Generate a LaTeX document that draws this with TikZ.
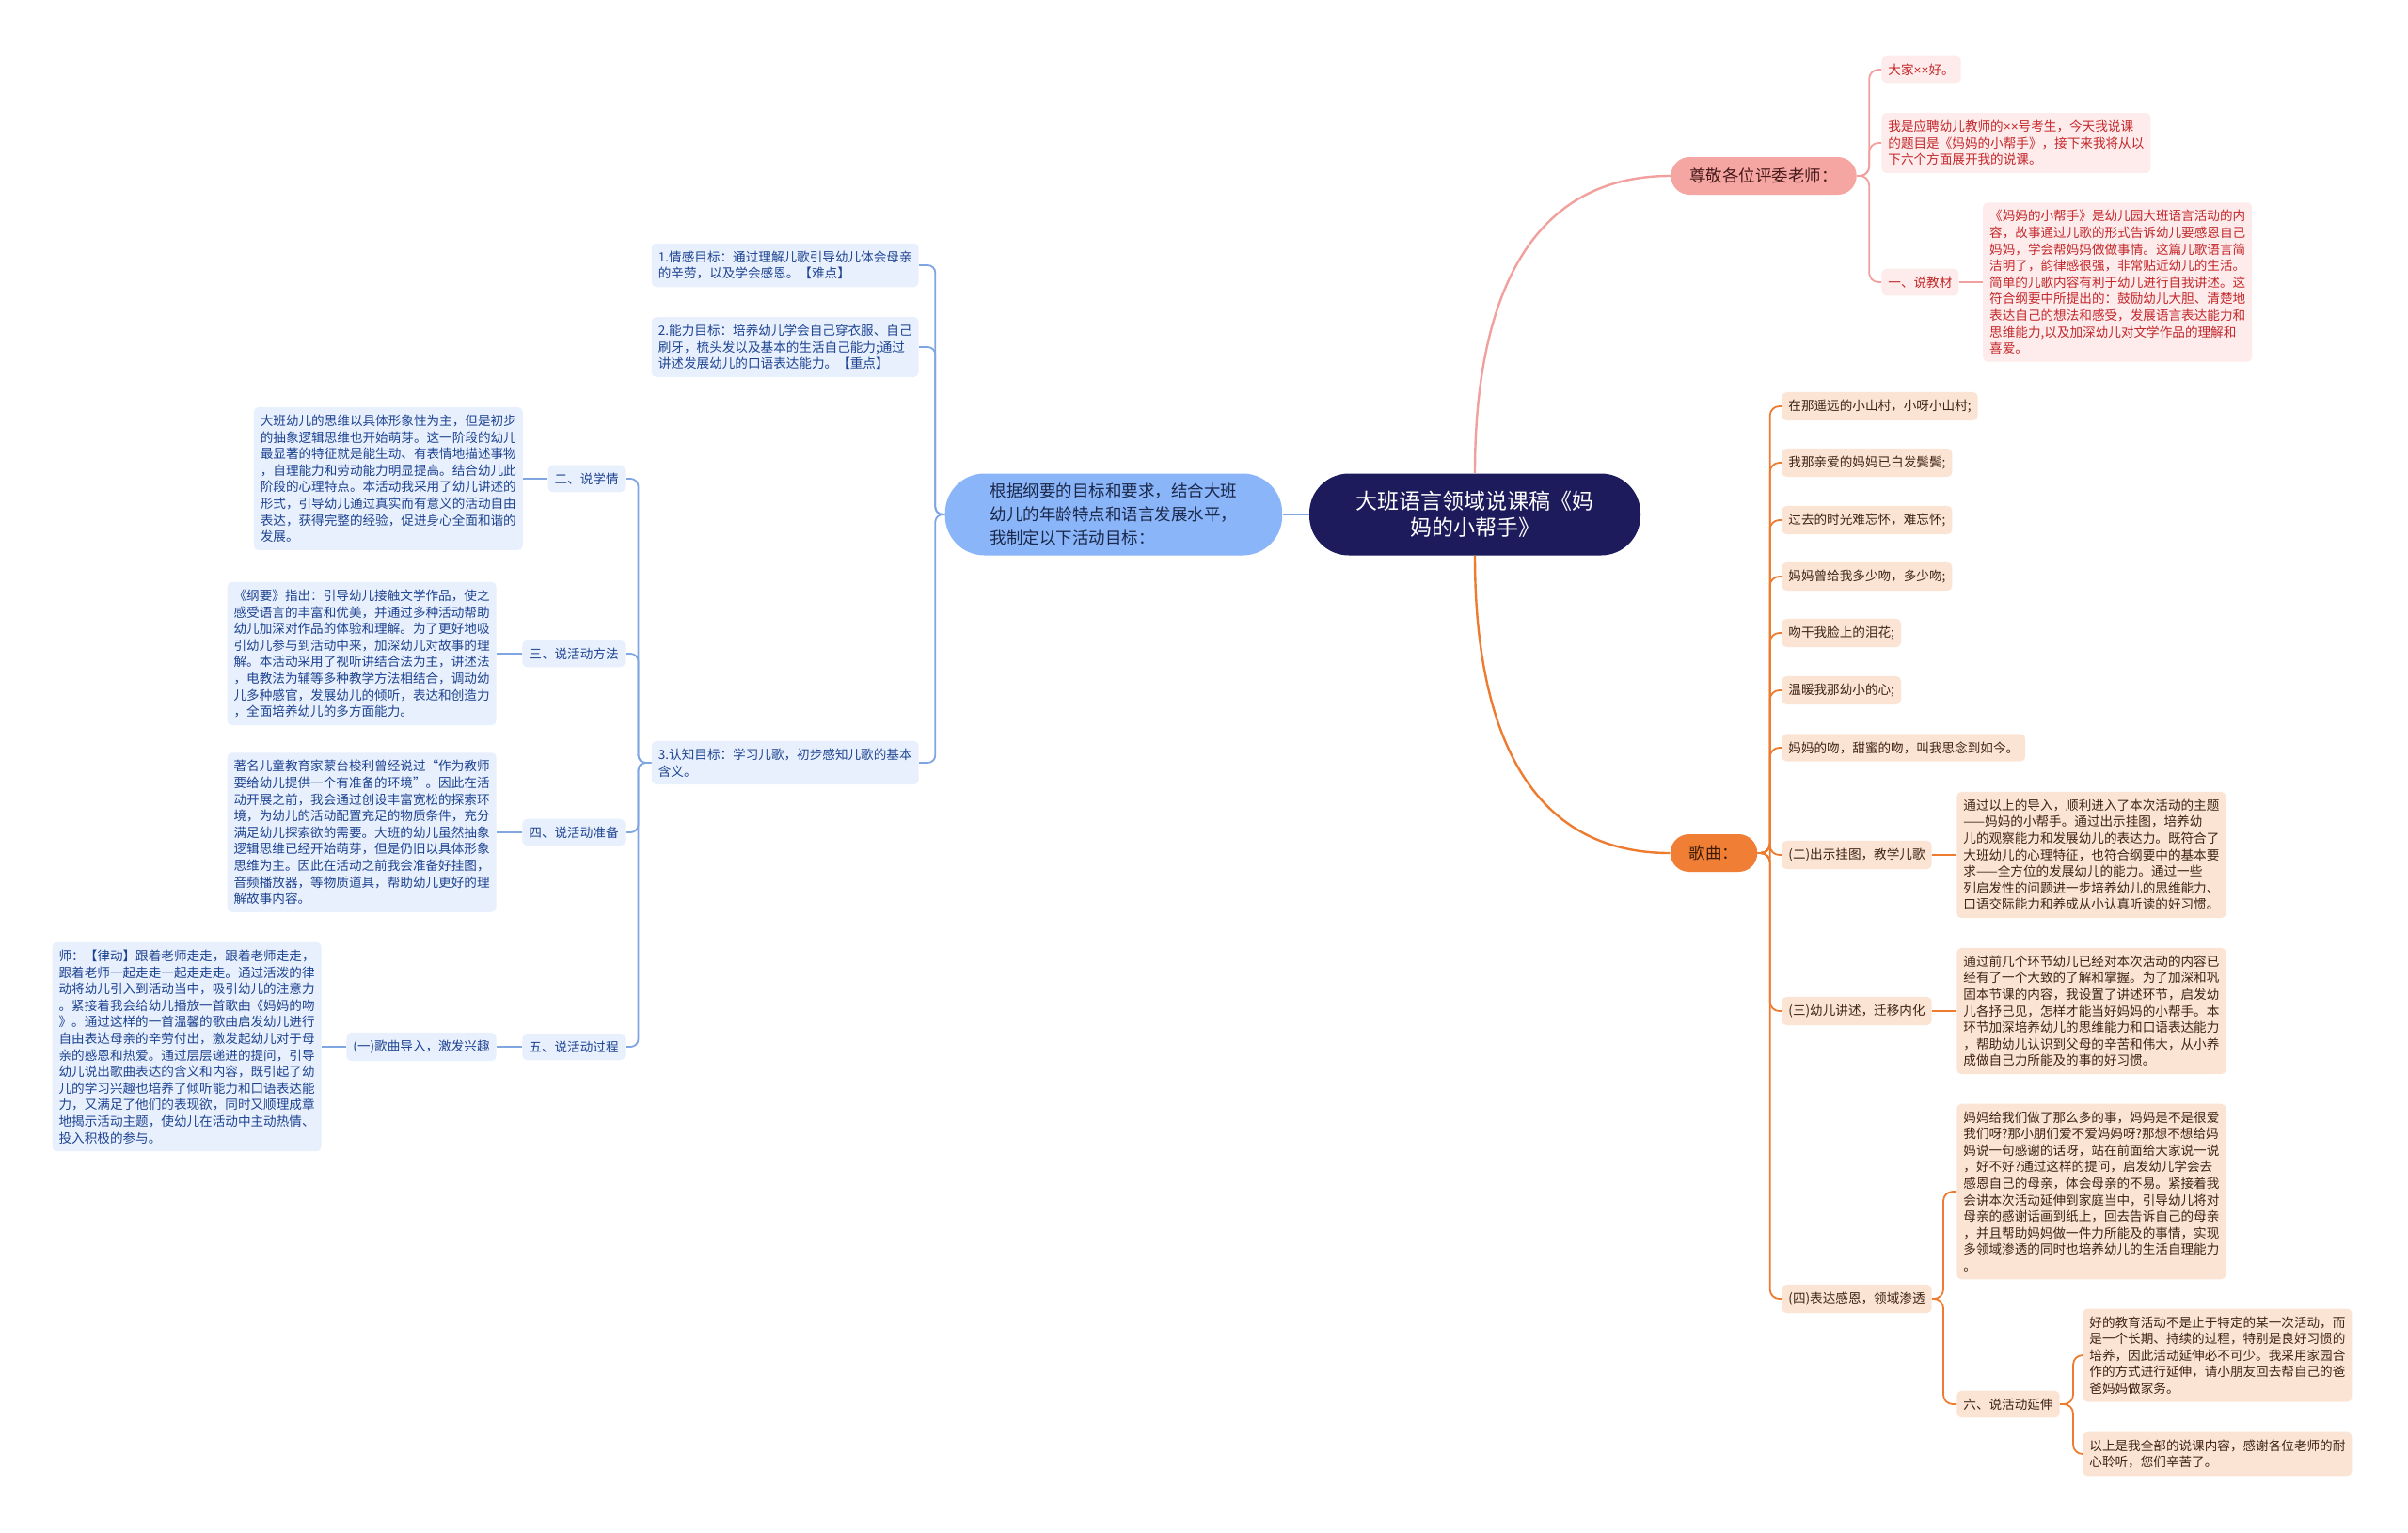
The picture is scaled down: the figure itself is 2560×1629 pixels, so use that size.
\documentclass[tikz,border=0pt]{standalone}
\usepackage{fontspec}
\setmainfont{Noto Sans CJK SC}
\newfontfamily\latinfont{Liberation Sans}
\usepackage{xcolor}
\usepackage{tikz}
\usetikzlibrary{
    positioning,
    calc
}

\definecolor{rootnavy}{RGB}{30,27,92}
\definecolor{pinkline}{RGB}{242,160,157}
\definecolor{pinkfill}{RGB}{245,166,163}
\definecolor{pinkpale}{RGB}{253,236,235}
\definecolor{pinktext}{RGB}{196,40,44}
\definecolor{pinkdark}{RGB}{70,25,25}
\definecolor{orangeline}{RGB}{238,124,48}
\definecolor{orangefill}{RGB}{240,126,52}
\definecolor{orangepale}{RGB}{252,228,212}
\definecolor{orangetext}{RGB}{62,36,20}
\definecolor{orangedark}{RGB}{60,28,8}
\definecolor{blueline}{RGB}{128,166,226}
\definecolor{bluefill}{RGB}{138,182,249}
\definecolor{bluepale}{RGB}{232,240,253}
\definecolor{bluetext}{RGB}{30,68,145}
\definecolor{bluedark}{RGB}{27,40,75}

\newcommand{\xx}{{\latinfont ××}}

\begin{document}
\begin{tikzpicture}[
  x=0.5pt, y=-0.5pt,
  root/.style={rectangle, rounded corners=21pt,
    fill=rootnavy, text=white,
    minimum width=176pt, minimum height=43.5pt,
    font=\fontsize{11.5}{14}\selectfont, align=center},
  goal/.style={rectangle, rounded corners=21pt,
    fill=bluefill, text=bluedark,
    minimum height=43.5pt, inner xsep=24pt,
    font=\fontsize{8.75}{12.5}\selectfont, align=left},
  topicpink/.style={rectangle, rounded corners=10pt,
    fill=pinkfill, text=pinkdark,
    minimum height=20pt, inner xsep=10pt,
    font=\fontsize{8.75}{12.5}\selectfont},
  topicorange/.style={rectangle, rounded corners=10pt,
    fill=orangefill, text=orangedark,
    minimum height=20pt, inner xsep=10pt,
    font=\fontsize{8.75}{12.5}\selectfont},
  leaf/.style={rectangle, rounded corners=2.5pt,
    inner xsep=3.5pt, inner ysep=4pt,
    font=\fontsize{6.8}{8.8}\selectfont, align=left},
  pinkleaf/.style={leaf, fill=pinkpale, text=pinktext},
  orangeleaf/.style={leaf, fill=orangepale, text=orangetext},
  blueleaf/.style={leaf, fill=bluepale, text=bluetext},
  pinkedge/.style={draw=pinkline, line width=1.2pt},
  orangeedge/.style={draw=orangeline, line width=1.2pt},
  blueedge/.style={draw=blueline, line width=1.2pt},
  pinkbranch/.style={draw=pinkline, line width=0.9pt, rounded corners=5pt},
  orangebranch/.style={draw=orangeline, line width=0.9pt, rounded corners=5pt},
  bluebranch/.style={draw=blueline, line width=0.9pt, rounded corners=4pt}
]

\fill[white] (0,0) rectangle (2560,1629);
\useasboundingbox (0,0) rectangle (2560,1629);

%% ── Root ─────────────────────────────────────────────────────────────────────
\node[root] (root) at (1568,547) {大班语言领域说课稿《妈\\妈的小帮手》};
\node[goal, left=14pt of root] (goal)
    {根据纲要的目标和要求，结合大班\\幼儿的年龄特点和语言发展水平，\\我制定以下活动目标：};

\draw[blueedge] (root.west) -- (goal.east);

%% ── Right, pink: greeting ────────────────────────────────────────────────────
\node[topicpink] (respect) at (1875,187) {尊敬各位评委老师：};

\node[pinkleaf, anchor=west] (hello) at (2000,74) {大家\xx 好。};
\node[pinkleaf, anchor=west] (intro) at (2000,152)
    {我是应聘幼儿教师的\xx 号考生，今天我说课\\的题目是《妈妈的小帮手》，接下来我将从以\\下六个方面展开我的说课。};
\node[pinkleaf, anchor=west] (material) at (2000,300) {一、说教材};
\node[pinkleaf, right=12.5pt of material] (materialtxt)
    {《妈妈的小帮手》是幼儿园大班语言活动的内\\容，故事通过儿歌的形式告诉幼儿要感恩自己\\妈妈，学会帮妈妈做做事情。这篇儿歌语言简\\洁明了，韵律感很强，非常贴近幼儿的生活。\\简单的儿歌内容有利于幼儿进行自我讲述。这\\符合纲要中所提出的：鼓励幼儿大胆、清楚地\\表达自己的想法和感受，发展语言表达能力和\\思维能力,以及加深幼儿对文学作品的理解和\\喜爱。};

\draw[pinkedge] (root.north) to[out=90, in=180, looseness=1.1] (respect.west);
\draw[pinkbranch] (respect.east) -- ++(13,0) |- (hello.west);
\draw[pinkbranch] (respect.east) -- ++(13,0) |- (intro.west);
\draw[pinkbranch] (respect.east) -- ++(13,0) |- (material.west);
\draw[pinkbranch] (material) -- (materialtxt);

%% ── Right, orange: song and process ──────────────────────────────────────────
\node[topicorange] (song) at (1822,907) {歌曲：};

\node[orangeleaf, anchor=west] (lyric1) at (1894,432) {在那遥远的小山村，小呀小山村;};
\node[orangeleaf, anchor=west] (lyric2) at (1894,492) {我那亲爱的妈妈已白发鬓鬓;};
\node[orangeleaf, anchor=west] (lyric3) at (1894,553) {过去的时光难忘怀，难忘怀;};
\node[orangeleaf, anchor=west] (lyric4) at (1894,613) {妈妈曾给我多少吻，多少吻;};
\node[orangeleaf, anchor=west] (lyric5) at (1894,673) {吻干我脸上的泪花;};
\node[orangeleaf, anchor=west] (lyric6) at (1894,734) {温暖我那幼小的心;};
\node[orangeleaf, anchor=west] (lyric7) at (1894,795) {妈妈的吻，甜蜜的吻，叫我思念到如今。};

\node[orangeleaf, anchor=west] (picture) at (1894,909) {(二)出示挂图，教学儿歌};
\node[orangeleaf, right=13pt of picture] (picturetxt)
    {通过以上的导入，顺利进入了本次活动的主题\\——妈妈的小帮手。通过出示挂图，培养幼\\儿的观察能力和发展幼儿的表达力。既符合了\\大班幼儿的心理特征，也符合纲要中的基本要\\求——全方位的发展幼儿的能力。通过一些\\列启发性的问题进一步培养幼儿的思维能力、\\口语交际能力和养成从小认真听读的好习惯。};

\node[orangeleaf, anchor=west] (retell) at (1894,1075) {(三)幼儿讲述，迁移内化};
\node[orangeleaf, right=13pt of retell] (retelltxt)
    {通过前几个环节幼儿已经对本次活动的内容已\\经有了一个大致的了解和掌握。为了加深和巩\\固本节课的内容，我设置了讲述环节，启发幼\\儿各抒己见，怎样才能当好妈妈的小帮手。本\\环节加深培养幼儿的思维能力和口语表达能力\\，帮助幼儿认识到父母的辛苦和伟大，从小养\\成做自己力所能及的事的好习惯。};

\node[orangeleaf, anchor=west] (gratitude) at (1894,1381) {(四)表达感恩，领域渗透};
\node[orangeleaf, anchor=west] (gratitudetxt) at (2080,1267)
    {妈妈给我们做了那么多的事，妈妈是不是很爱\\我们呀?那小朋们爱不爱妈妈呀?那想不想给妈\\妈说一句感谢的话呀，站在前面给大家说一说\\，好不好?通过这样的提问，启发幼儿学会去\\感恩自己的母亲，体会母亲的不易。紧接着我\\会讲本次活动延伸到家庭当中，引导幼儿将对\\母亲的感谢话画到纸上，回去告诉自己的母亲\\，并且帮助妈妈做一件力所能及的事情，实现\\多领域渗透的同时也培养幼儿的生活自理能力\\。};
\node[orangeleaf, anchor=west] (extension) at (2080,1493) {六、说活动延伸};
\node[orangeleaf, anchor=west] (extensiontxt) at (2214,1441)
    {好的教育活动不是止于特定的某一次活动，而\\是一个长期、持续的过程，特别是良好习惯的\\培养，因此活动延伸必不可少。我采用家园合\\作的方式进行延伸，请小朋友回去帮自己的爸\\爸妈妈做家务。};
\node[orangeleaf, anchor=west] (closing) at (2214,1546)
    {以上是我全部的说课内容，感谢各位老师的耐\\心聆听，您们辛苦了。};

\draw[orangeedge] (root.south) to[out=-90, in=180, looseness=1.1] (song.west);
\draw[orangebranch] (song.east) -- ++(13,0) |- (lyric1.west);
\draw[orangebranch] (song.east) -- ++(13,0) |- (lyric2.west);
\draw[orangebranch] (song.east) -- ++(13,0) |- (lyric3.west);
\draw[orangebranch] (song.east) -- ++(13,0) |- (lyric4.west);
\draw[orangebranch] (song.east) -- ++(13,0) |- (lyric5.west);
\draw[orangebranch] (song.east) -- ++(13,0) |- (lyric6.west);
\draw[orangebranch] (song.east) -- ++(13,0) |- (lyric7.west);
\draw[orangebranch] (song.east) -- ++(13,0) |- (picture.west);
\draw[orangebranch] (song.east) -- ++(13,0) |- (retell.west);
\draw[orangebranch] (song.east) -- ++(13,0) |- (gratitude.west);
\draw[orangebranch] (picture) -- (picturetxt);
\draw[orangebranch] (retell) -- (retelltxt);
\draw[orangebranch] (gratitude.east) -- ++(12,0) |- (gratitudetxt.west);
\draw[orangebranch] (gratitude.east) -- ++(12,0) |- (extension.west);
\draw[orangebranch] (extension.east) -- ++(14,0) |- (extensiontxt.west);
\draw[orangebranch] (extension.east) -- ++(14,0) |- (closing.west);

%% ── Left, blue: aims ─────────────────────────────────────────────────────────
\node[blueleaf, anchor=east] (aim1) at (977,282)
    {1.情感目标：通过理解儿歌引导幼儿体会母亲\\的辛劳，以及学会感恩。【难点】};
\node[blueleaf, anchor=east] (aim2) at (977,369)
    {2.能力目标：培养幼儿学会自己穿衣服、自己\\刷牙，梳头发以及基本的生活自己能力;通过\\讲述发展幼儿的口语表达能力。【重点】};
\node[blueleaf, anchor=east] (aim3) at (977,811)
    {3.认知目标：学习儿歌，初步感知儿歌的基本\\含义。};

\draw[bluebranch] (goal.west) -- ++(-10,0) |- (aim1.east);
\draw[bluebranch] (goal.west) -- ++(-10,0) |- (aim2.east);
\draw[bluebranch] (goal.west) -- ++(-10,0) |- (aim3.east);

%% ── Left, blue: sections ─────────────────────────────────────────────────────
\node[blueleaf, anchor=east] (learner) at (665,509) {二、说学情};
\node[blueleaf, left=13pt of learner] (learnertxt)
    {大班幼儿的思维以具体形象性为主，但是初步\\的抽象逻辑思维也开始萌芽。这一阶段的幼儿\\最显著的特征就是能生动、有表情地描述事物\\，自理能力和劳动能力明显提高。结合幼儿此\\阶段的心理特点。本活动我采用了幼儿讲述的\\形式，引导幼儿通过真实而有意义的活动自由\\表达，获得完整的经验，促进身心全面和谐的\\发展。};

\node[blueleaf, anchor=east] (method) at (665,695) {三、说活动方法};
\node[blueleaf, left=13.5pt of method] (methodtxt)
    {《纲要》指出：引导幼儿接触文学作品，使之\\感受语言的丰富和优美，并通过多种活动帮助\\幼儿加深对作品的体验和理解。为了更好地吸\\引幼儿参与到活动中来，加深幼儿对故事的理\\解。本活动采用了视听讲结合法为主，讲述法\\，电教法为辅等多种教学方法相结合，调动幼\\儿多种感官，发展幼儿的倾听，表达和创造力\\，全面培养幼儿的多方面能力。};

\node[blueleaf, anchor=east] (prepare) at (665,885) {四、说活动准备};
\node[blueleaf, left=13.5pt of prepare] (preparetxt)
    {著名儿童教育家蒙台梭利曾经说过“作为教师\\要给幼儿提供一个有准备的环境”。因此在活\\动开展之前，我会通过创设丰富宽松的探索环\\境，为幼儿的活动配置充足的物质条件，充分\\满足幼儿探索欲的需要。大班的幼儿虽然抽象\\逻辑思维已经开始萌芽，但是仍旧以具体形象\\思维为主。因此在活动之前我会准备好挂图，\\音频播放器，等物质道具，帮助幼儿更好的理\\解故事内容。};

\node[blueleaf, anchor=east] (process) at (665,1113) {五、说活动过程};
\node[blueleaf, left=13.5pt of process] (warmup) {(一)歌曲导入，激发兴趣};
\node[blueleaf, left=13pt of warmup] (warmuptxt)
    {师：【律动】跟着老师走走，跟着老师走走，\\跟着老师一起走走一起走走走。通过活泼的律\\动将幼儿引入到活动当中，吸引幼儿的注意力\\。紧接着我会给幼儿播放一首歌曲《妈妈的吻\\》。通过这样的一首温馨的歌曲启发幼儿进行\\自由表达母亲的辛劳付出，激发起幼儿对于母\\亲的感恩和热爱。通过层层递进的提问，引导\\幼儿说出歌曲表达的含义和内容，既引起了幼\\儿的学习兴趣也培养了倾听能力和口语表达能\\力，又满足了他们的表现欲，同时又顺理成章\\地揭示活动主题，使幼儿在活动中主动热情、\\投入积极的参与。};

\draw[bluebranch] (aim3.west) -- ++(-14,0) |- (learner.east);
\draw[bluebranch] (aim3.west) -- ++(-14,0) |- (method.east);
\draw[bluebranch] (aim3.west) -- ++(-14,0) |- (prepare.east);
\draw[bluebranch] (aim3.west) -- ++(-14,0) |- (process.east);
\draw[bluebranch] (learner) -- (learnertxt);
\draw[bluebranch] (method) -- (methodtxt);
\draw[bluebranch] (prepare) -- (preparetxt);
\draw[bluebranch] (process) -- (warmup);
\draw[bluebranch] (warmup) -- (warmuptxt);

\end{tikzpicture}
\end{document}
